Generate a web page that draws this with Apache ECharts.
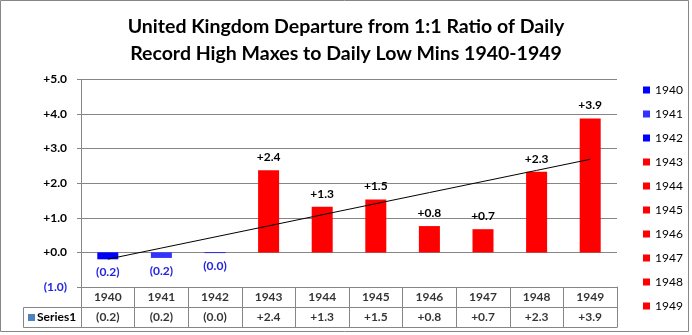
<!DOCTYPE html>
<html>
<head>
<meta charset="utf-8">
<script src="https://cdn.jsdelivr.net/npm/echarts@6/dist/echarts.min.js"></script>
<style>html,body{margin:0;padding:0;background:#fff}#c{width:692px;height:335px}</style>
</head>
<body>
<div id="c"></div>
<script>
const titleText = 'United Kingdom Departure from 1:1 Ratio of Daily\nRecord High Maxes to Daily Low Mins 1940-1949';
const categories = ['1940','1941','1942','1943','1944','1945','1946','1947','1948','1949'];
const values = [-0.2, -0.16, -0.02, 2.37, 1.32, 1.53, 0.76, 0.67, 2.33, 3.87];
const barColors = ['#0000FF','#3333FF','#0000FF','#FF0000','#FF0000','#FF0000','#FF0000','#FF0000','#FF0000','#FF0000'];
const seriesName = 'Series1';
const yMin = -1, yMax = 5, yInterval = 1;

const FONT = 'Lato';
const GRID = '#868686';
const NEG = '#2424E0';
const fmt = v => v < 0 ? '(' + Math.abs(v).toFixed(1) + ')' : '+' + v.toFixed(1);

// linear trendline (least squares) from the series values
const n = values.length;
const mx = (n - 1) / 2;
const my = values.reduce((a, b) => a + b, 0) / n;
let sxy = 0, sxx = 0;
values.forEach((v, i) => { sxy += (i - mx) * (v - my); sxx += (i - mx) * (i - mx); });
const slope = sxy / sxx, intercept = my - slope * mx;
const trend = categories.map((_, i) => intercept + slope * i);

const chart = echarts.init(document.getElementById('c'), null, {renderer: 'canvas'});

const barSeries = categories.map((c, i) => ({
  type: 'bar', name: c, stack: 'all', xAxisIndex: 0, yAxisIndex: 0, barWidth: 21,
  itemStyle: {color: barColors[i]},
  label: {show: true, formatter: p => fmt(p.value), fontFamily: FONT, fontWeight: 'bold', fontSize: 12, distance: 7},
  data: values.map((v, j) => j === i ? {value: v, label: {position: v < 0 ? 'bottom' : 'top', color: v < 0 ? NEG : '#000'}} : '-'),
  z: 2
}));

const option = {
  animation: false,
  title: {
    text: titleText, left: 'center', top: 8,
    textStyle: {fontFamily: FONT, fontSize: 19.5, fontWeight: 'bold', color: '#000', lineHeight: 27}
  },
  legend: {
    data: categories, orient: 'vertical', left: 638, top: 78,
    itemWidth: 7, itemHeight: 7, itemGap: 10, icon: 'rect',
    textStyle: {fontFamily: FONT, fontSize: 12, color: '#000', lineHeight: 14},
    selectedMode: false
  },
  grid: [
    {left: 81, right: 75, top: 79.3, height: 207.7},
    {left: 81, right: 75, top: 287, height: 40}
  ],
  xAxis: [
    {type: 'category', gridIndex: 0, data: categories, axisLabel: {show: false}, axisTick: {show: false}, axisLine: {show: false}},
    {type: 'category', gridIndex: 1, data: categories, axisLabel: {show: false}, axisTick: {show: false},
     axisLine: {show: true, lineStyle: {color: GRID}}, splitLine: {show: true, interval: 0, lineStyle: {color: GRID}}}
  ],
  yAxis: [
    {type: 'value', gridIndex: 0, min: yMin, max: yMax, interval: yInterval,
     axisLine: {show: true, lineStyle: {color: GRID}},
     axisTick: {show: true, length: 4, lineStyle: {color: GRID}},
     splitLine: {show: true, lineStyle: {color: GRID}},
     axisLabel: {formatter: fmt, margin: 14, fontFamily: FONT, fontWeight: 'bold', fontSize: 12,
                 color: v => v < 0 ? NEG : '#000'}},
    {type: 'value', gridIndex: 1, min: 0, max: 2, interval: 1, axisLabel: {show: false}, axisTick: {show: false},
     axisLine: {show: true, lineStyle: {color: GRID}}, splitLine: {show: true, lineStyle: {color: GRID}}},
    {type: 'value', gridIndex: 1, position: 'right', min: 0, max: 2, interval: 1, axisLabel: {show: false}, axisTick: {show: false},
     axisLine: {show: true, lineStyle: {color: GRID}}, splitLine: {show: false}}
  ],
  series: [
    ...barSeries,
    {type: 'line', name: 'trend', xAxisIndex: 0, yAxisIndex: 0, data: trend, symbol: 'none',
     lineStyle: {color: '#000', width: 1}, z: 5, silent: true},
    {type: 'scatter', name: 'hdr', xAxisIndex: 1, yAxisIndex: 1, symbolSize: 1, itemStyle: {color: 'transparent'},
     data: categories.map((c, i) => [i, 1.5]),
     label: {show: true, position: 'inside', formatter: p => categories[p.dataIndex], fontFamily: FONT, fontWeight: 'bold', fontSize: 12, color: '#000'}},
    {type: 'scatter', name: 'vals', xAxisIndex: 1, yAxisIndex: 1, symbolSize: 1, itemStyle: {color: 'transparent'},
     data: categories.map((c, i) => [i, 0.5]),
     label: {show: true, position: 'inside', formatter: p => fmt(values[p.dataIndex]), fontFamily: FONT, fontWeight: 'bold', fontSize: 12, color: '#000'}}
  ],
  graphic: [
    {type: 'rect', silent: true, shape: {x: 0.5, y: 0.5, width: 688, height: 331}, style: {fill: 'none', stroke: GRID, lineWidth: 1}},
    {type: 'polyline', silent: true, shape: {points: [[81, 307.5], [23.5, 307.5], [23.5, 327.5], [81, 327.5]]}, style: {fill: 'none', stroke: GRID, lineWidth: 1}},
    {type: 'rect', silent: true, shape: {x: 28, y: 314, width: 7, height: 7}, style: {fill: '#4F81BD'}},
    {type: 'text', silent: true, x: 37, y: 317.5, style: {text: seriesName, fontFamily: FONT, fontWeight: 'bold', fontSize: 12, fill: '#000', textVerticalAlign: 'middle'}}
  ]
};
chart.setOption(option);
</script>
</body>
</html>
